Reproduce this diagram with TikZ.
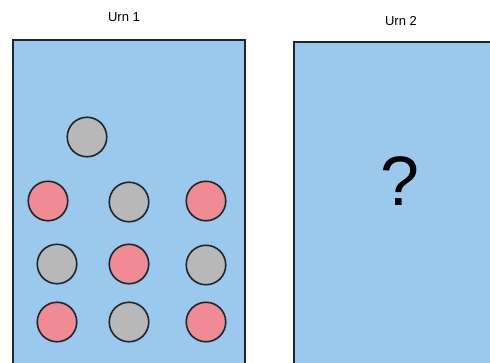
\documentclass[tikz,border=0pt]{standalone}
\usepackage{fontspec}
\setmainfont{Liberation Sans}
\usetikzlibrary{positioning}
\definecolor{ink}{HTML}{1E262C}
\definecolor{urnblue}{HTML}{9BC9EE}
\definecolor{ballred}{HTML}{F08A93}
\definecolor{ballgray}{HTML}{B8B8B8}
\tikzset{
  urn/.style={draw=ink,fill=urnblue,line width=1.4pt,minimum width=232pt,minimum height=330pt,inner sep=0pt},
  ball/.style={circle,draw=ink,line width=1.6pt,minimum size=39.5pt,inner sep=0pt},
  redball/.style={ball,fill=ballred},
  grayball/.style={ball,fill=ballgray},
  urnlabel/.style={font=\fontsize{13}{15}\selectfont,text=black,inner sep=0pt}
}
\begin{document}
\begin{tikzpicture}[x=1pt,y=-1pt]
  \useasboundingbox (0,0) rectangle (490,362);
  \clip (0,0) rectangle (490,362);
  % urns
  \node[urn] (urnA) at (129,205) {};
  \node[urn] (urnB) at (410,207) {};
  \node[urnlabel] (labA) at (124,17) {Urn 1};
  \node[urnlabel] (labB) at (401,21) {Urn 2};
  \node[font=\fontsize{70}{70}\selectfont,inner sep=0pt] (qB) at (400,181) {?};
  % balls in urn 1
  \node[grayball] (b0) at (87,137) {};
  \foreach \x/\y/\c/\name in {48/201/red/b1,129/202/gray/b2,206/201/red/b3,
                              57/264/gray/b4,129/264/red/b5,206/265/gray/b6,
                              57/322/red/b7,129/322/gray/b8,206/322/red/b9} {
    \node[\c ball] (\name) at (\x,\y) {};
  }
\end{tikzpicture}
\end{document}
